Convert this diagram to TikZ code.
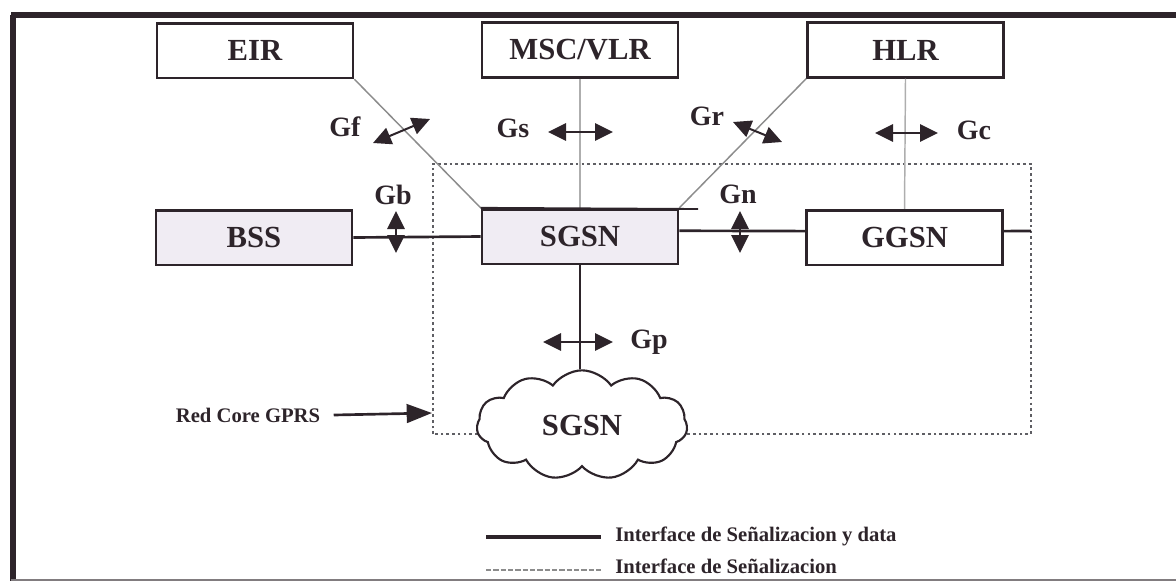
\documentclass[tikz,border=0pt]{standalone}
\usepackage{fontspec}
\setmainfont{Liberation Serif}
\usetikzlibrary{arrows.meta,shapes.symbols}
\definecolor{ink}{RGB}{45,36,42}
\definecolor{boxfill}{RGB}{240,236,243}
\definecolor{sig}{RGB}{140,140,140}
\definecolor{core}{RGB}{95,95,100}
\tikzset{
  fathead/.tip={Triangle[length=13.5pt,width=13pt]},
  bighead/.tip={Triangle[length=19pt,width=14pt]},
}
\begin{document}
\begin{tikzpicture}[x=0.75pt,y=-0.75pt,
  elem/.style={draw=ink, line width=2pt, minimum width=147pt, minimum height=41pt,
    inner sep=0pt, text=ink, font=\fontsize{23}{23}\selectfont\bfseries},
  shaded/.style={elem, fill=boxfill},
  lbl/.style={text=ink, font=\fontsize{21}{21}\selectfont\bfseries, inner sep=0pt},
  small/.style={text=ink, font=\fontsize{15.5}{16}\selectfont\bfseries, inner sep=0pt},
  data/.style={draw=ink, line width=2pt},
  signal/.style={draw=sig, line width=1.1pt},
  corenet/.style={draw=core, line width=2.1pt, dash pattern=on 2pt off 2.3pt},
  iface/.style={draw=ink, fill=ink, line width=1.5pt, fathead-fathead},
]
\useasboundingbox (0,0) rectangle (1176,583);

% outer frame
\draw[ink, line width=4pt] (11,15) -- (1176,15);
\draw[ink, line width=4pt] (13,15) -- (13,581);
\draw[ink!60, line width=1.5pt] (11,580) -- (1176,580);

% GPRS core network boundary
\draw[corenet] (433,434) -- (433,164) -- (1031,164) -- (1031,434) -- cycle;

% network elements
\node[elem]   (EIR)  at (255,50.5)  {EIR};
\node[elem]   (MSC)  at (580,50)    {MSC/VLR};
\node[elem]   (HLR)  at (905.5,50)  {HLR};
\node[shaded] (BSS)  at (254,237.5) {BSS};
\node[shaded] (SGSN) at (580,236.5) {SGSN};
\node[elem]   (GGSN) at (904.5,237.5) {GGSN};

% other GPRS network
\node[cloud, cloud puffs=11, cloud puff arc=110, cloud ignores aspect,
      draw=ink, line width=1.6pt, fill=white, minimum width=158pt,
      minimum height=82pt, inner sep=0pt, text=ink,
      font=\fontsize{23}{23}\selectfont\bfseries] (PLMN) at (582,425) {SGSN};

% signalling interfaces
\draw[signal] (EIR.south east) -- (SGSN.north west);
\draw[signal, sig!70] (MSC.south) -- (SGSN.north);
\draw[signal] (HLR.south west) -- (SGSN.north east);
\draw[signal, sig!70] (HLR.south) -- (GGSN.north);

% signalling and data interfaces
\coordinate (coreE) at (1031,231);
\coordinate (sgsnTop) at (698,209);
\draw[data] (BSS.east) -- (SGSN.west);
\draw[data] ([yshift=4.3pt]SGSN.east) -- ([yshift=4.8pt]GGSN.west);
\draw[data] ([yshift=4.8pt]GGSN.east) -- (coreE);
\draw[data] (SGSN.south) -- (SGSN.south |- PLMN.north);
\draw[ink, line width=1.4pt] (SGSN.north west) -- (sgsnTop);

% interface markers
\draw[iface] (373,143) -- (430,119);
\draw[iface] (548,132) -- (613,132);
\draw[iface] (733,122) -- (782,142);
\draw[iface] (875,133) -- (938,133);
\draw[iface] (396,211) -- (396,253);
\draw[iface] (740,211) -- (740,253);
\draw[iface] (543,342) -- (613,342);

% interface names
\node[lbl] (Gf) at (345,127) {Gf};
\node[lbl] (Gs) at (513,128) {Gs};
\node[lbl] (Gr) at (707,116) {Gr};
\node[lbl] (Gc) at (974,130) {Gc};
\node[lbl] (Gb) at (393,195) {Gb};
\node[lbl] (Gn) at (738,194) {Gn};
\node[lbl] (Gp) at (649,342) {Gp};

% core network label
\coordinate (coreW) at (432,413);
\node[small] (rc) at (248,415) {Red Core GPRS};
\draw[ink, fill=ink, line width=2pt, -bighead] ([xshift=10pt]rc.east) -- (coreW);

% legend
\coordinate (la1) at (486,537);
\coordinate (lb1) at (601,537);
\coordinate (la2) at (486,570);
\coordinate (lb2) at (601,570);
\draw[ink, line width=2.4pt] (la1) -- (lb1);
\draw[sig, line width=1.6pt, dash pattern=on 4pt off 1.5pt] (la2) -- (lb2);
\node[small, anchor=base west] (leg1) at (615,541) {Interface de Señalizacion y data};
\node[small, anchor=base west] (leg2) at (615,573) {Interface de Señalizacion};
\end{tikzpicture}
\end{document}
